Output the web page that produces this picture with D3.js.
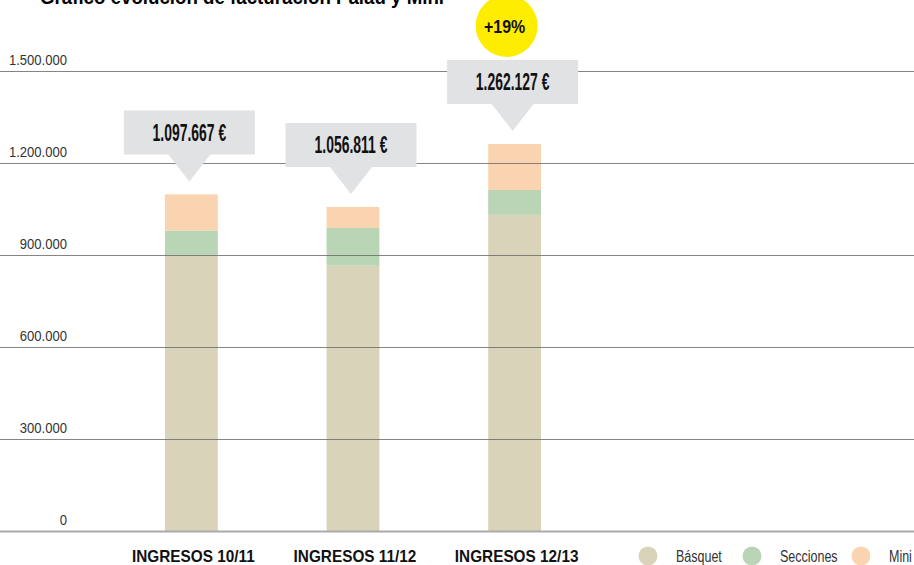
<!DOCTYPE html>
<html>
<head>
<meta charset="utf-8">
<script src="https://cdn.jsdelivr.net/npm/d3@7"></script>
<style>
  body { margin: 0; background: #fff; }
  svg { display: block; }
  text { font-family: "Liberation Sans", Arial, sans-serif; }
</style>
</head>
<body>
<svg id="chart" width="914" height="565"></svg>
<script>
// data
const seasons = ["INGRESOS 10/11", "INGRESOS 11/12", "INGRESOS 12/13"];
const basquet = [900000, 865000, 1031000];
const secciones = [80000, 123000, 81000];
const mini = [117667, 68811, 150127];
const totals = ["1.097.667 €", "1.056.811 €", "1.262.127 €"];
const yTicks = [0, 300000, 600000, 900000, 1200000, 1500000];
const seriesNames = ["Básquet", "Secciones", "Mini"];
const seriesColors = ["#d9d4b9", "#b9d5b5", "#fad4b0"];
const growth = "+19%";

const W = 914, H = 565;
const svg = d3.select("#chart");

const x = d3.scaleBand().domain(seasons).range([110, 596]).paddingInner(0.673).paddingOuter(0.34);
const y = d3.scaleLinear().domain([0, 1500000]).range([531, 71]);

const fmt = d => d3.format(",")(d).replace(/,/g, ".");

// squeeze text horizontally, the source uses a condensed face
function condense(sel, k) {
  sel.each(function () {
    const w = this.getComputedTextLength();
    d3.select(this).attr("textLength", w * k).attr("lengthAdjust", "spacingAndGlyphs");
  });
}

// title (cut off at top like the source)
svg.append("text")
  .attr("x", 40).attr("y", 4)
  .style("font-size", "21px").style("font-weight", "bold")
  .text("Gráfico evolución de facturación Palau y Mini")
  .call(condense, 0.89);

// stacked data
const rows = seasons.map((s, i) => ({ season: s, "Básquet": basquet[i], "Secciones": secciones[i], "Mini": mini[i] }));
const stack = d3.stack().keys(seriesNames)(rows);

// bars
const layers = svg.append("g").selectAll("g")
  .data(stack).join("g")
  .attr("fill", (d, i) => seriesColors[i]);

layers.selectAll("rect")
  .data(d => d).join("rect")
  .attr("x", d => x(d.data.season))
  .attr("width", x.bandwidth())
  .attr("y", d => y(d[1]))
  .attr("height", d => y(d[0]) - y(d[1]));

// grid lines on top of bars
const grid = svg.append("g");
grid.selectAll("line")
  .data(yTicks.filter(d => d > 0)).join("line")
  .attr("x1", 0).attr("x2", W)
  .attr("y1", d => Math.round(y(d)) + 0.5).attr("y2", d => Math.round(y(d)) + 0.5)
  .attr("stroke", "#6e6e6e").attr("stroke-opacity", 0.85).attr("stroke-width", 1.2);

svg.append("line")
  .attr("x1", 0).attr("x2", W)
  .attr("y1", y(0) + 0.5).attr("y2", y(0) + 0.5)
  .attr("stroke", "#a9a9a9").attr("stroke-width", 2);

// y labels
svg.append("g").selectAll("text")
  .data(yTicks).join("text")
  .attr("x", 67).attr("y", d => y(d) - 6)
  .attr("text-anchor", "end")
  .style("font-size", "14.5px").attr("fill", "#333")
  .text(fmt)
  .call(condense, 0.9);

// callouts
const tipGap = 13, boxW = 131, boxH = 44, triH = 27, triW = 42;
const callouts = svg.append("g").selectAll("g")
  .data(rows).join("g")
  .attr("transform", (d, i) => {
    const cx = x(d.season) + x.bandwidth() / 2 - 2;
    const top = y(basquet[i] + secciones[i] + mini[i]) - tipGap;
    return `translate(${cx},${top})`;
  });

callouts.append("path")
  .attr("d", `M${-boxW / 2},${-triH - boxH} h${boxW} v${boxH} h${-(boxW - triW) / 2} L0,0 L${-triW / 2},${-triH} h${-(boxW - triW) / 2} Z`)
  .attr("fill", "#e1e2e4");

callouts.append("text")
  .attr("x", 0).attr("y", -triH - boxH / 2 + 8.5)
  .attr("text-anchor", "middle")
  .style("font-size", "24px").style("font-weight", "bold").attr("fill", "#111")
  .text((d, i) => totals[i])
  .call(condense, 0.58);

// growth badge
const lastTop = y(basquet[2] + secciones[2] + mini[2]) - tipGap - triH - boxH;
const badge = svg.append("g").attr("transform", `translate(${x(seasons[2]) + x.bandwidth() / 2 - 8},${lastTop - 34})`);
badge.append("circle").attr("r", 31).attr("fill", "#ffed00");
badge.append("text")
  .attr("x", -2).attr("y", 7)
  .attr("text-anchor", "middle")
  .style("font-size", "19px").style("font-weight", "bold").attr("fill", "#111")
  .text(growth)
  .call(condense, 0.84);

// x labels
svg.append("g").selectAll("text")
  .data(seasons).join("text")
  .attr("x", d => x(d) + x.bandwidth() / 2 + 2)
  .attr("y", 562)
  .attr("text-anchor", "middle")
  .style("font-size", "16.5px").style("font-weight", "bold").attr("fill", "#111")
  .text(d => d)
  .call(condense, 0.93);

// legend
const legX = [648, 752, 861];
const legend = svg.append("g").selectAll("g")
  .data(seriesNames).join("g")
  .attr("transform", (d, i) => `translate(${legX[i]},556)`);
legend.append("circle").attr("r", 9.5).attr("fill", (d, i) => seriesColors[i]);
legend.append("text")
  .attr("x", 28).attr("y", 6)
  .style("font-size", "16px").attr("fill", "#333")
  .text(d => d)
  .call(condense, 0.78);
</script>
</body>
</html>
